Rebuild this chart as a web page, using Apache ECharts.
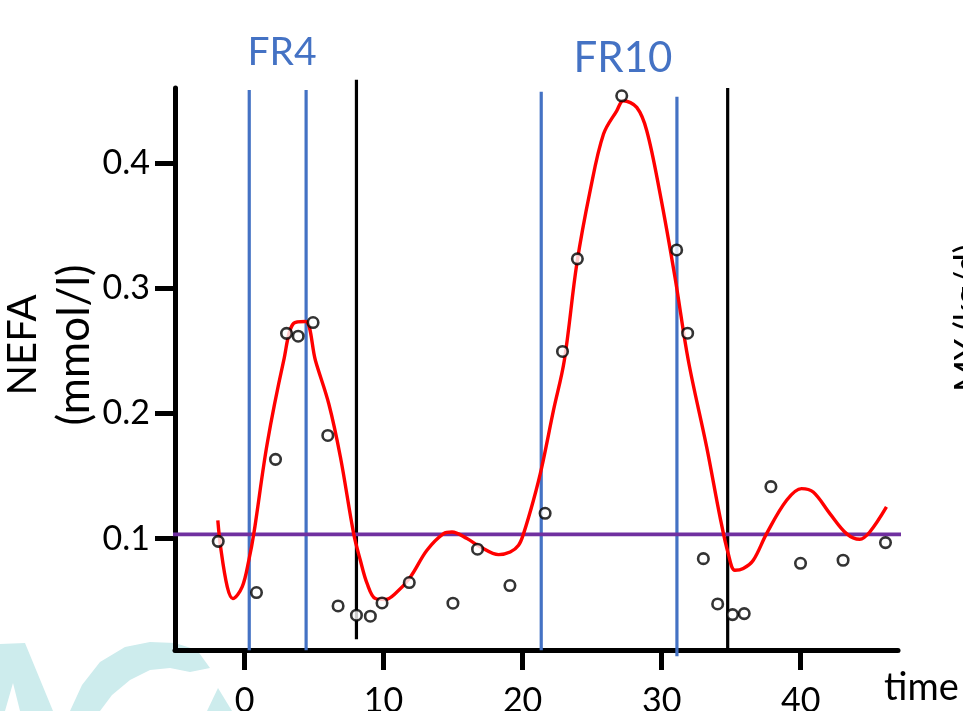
<!DOCTYPE html>
<html><head><meta charset="utf-8">
<script src="https://cdn.jsdelivr.net/npm/echarts@6/dist/echarts.min.js"></script>
<style>html,body{margin:0;padding:0;background:#fff}#c{width:963px;height:711px}</style>
</head><body><div id="c"></div>
<script>
// ---- data ----
const xTicks = [0, 10, 20, 30, 40];
const yTicks = [0.1, 0.2, 0.3, 0.4];
const obsTime = [-1.89, 0.86, 2.23, 3.02, 3.86, 4.93, 5.99, 6.73, 8.05, 9.05, 9.89, 11.85, 14.99, 16.76, 19.09, 21.62, 22.87, 23.94, 27.13, 31.08, 31.87, 33.0, 34.03, 35.1, 35.94, 37.86, 39.99, 43.05, 46.1];
const obsNEFA = [0.0978, 0.0569, 0.1633, 0.264, 0.2617, 0.2726, 0.1824, 0.0462, 0.0388, 0.038, 0.0486, 0.0649, 0.0484, 0.0915, 0.0625, 0.1202, 0.2495, 0.3235, 0.4538, 0.3306, 0.2641, 0.084, 0.0478, 0.0393, 0.0401, 0.1415, 0.0803, 0.0827, 0.0968];
const fitTime = [-1.92, -1.72, -1.24, -0.84, -0.17, 0.31, 0.67, 1.63, 2.82, 3.54, 4.38, 5.1, 6.06, 6.9, 7.85, 8.33, 8.82, 9.41, 10.13, 10.85, 11.93, 13.12, 14.32, 14.92, 16.0, 16.95, 18.27, 19.11, 19.71, 20.07, 20.78, 21.38, 22.22, 23.0, 23.9, 24.86, 25.82, 26.77, 27.25, 28.21, 28.93, 29.89, 30.96, 31.92, 33.24, 34.2, 34.79, 35.27, 35.87, 36.59, 37.55, 38.99, 40.06, 40.9, 42.1, 43.3, 44.25, 44.97, 46.17];
const fitNEFA = [0.1146, 0.0933, 0.0614, 0.0521, 0.0614, 0.0827, 0.104, 0.1758, 0.2423, 0.272, 0.2734, 0.2423, 0.2077, 0.165, 0.104, 0.0827, 0.064, 0.0521, 0.0513, 0.0561, 0.0694, 0.0907, 0.104, 0.1053, 0.1, 0.0935, 0.0872, 0.0893, 0.0947, 0.104, 0.1306, 0.1571, 0.2024, 0.2423, 0.3195, 0.378, 0.4232, 0.4418, 0.4498, 0.4445, 0.4259, 0.3754, 0.3088, 0.2423, 0.1731, 0.1172, 0.088, 0.0747, 0.0761, 0.0827, 0.104, 0.1306, 0.1399, 0.1372, 0.12, 0.104, 0.0995, 0.1053, 0.1253];
const frTime = [0.34, 4.43, 21.34, 31.1];
const frTop = [0.4585, 0.4585, 0.457, 0.453];
const frBottom = [0.0109, 0.0109, 0.0109, 0.0061];
const phaseTime = [8.05, 34.75];
const phaseTop = [0.4666, 0.460];
const phaseBottom = [0.0196, 0.0109];
const baselineNEFA = 0.1034;
const baselineSpan = [-5.69, 48.04];
const frLabels = ['FR4', 'FR10'];

// ---- build ----
const FONT = 'Lato';
const series = [];
frTime.forEach((t, i) => series.push({
  type: 'line', clip: false, symbol: 'none', silent: true, z: 2,
  lineStyle: { color: '#4472C4', width: 3.2 },
  data: [[t, frBottom[i]], [t, frTop[i]]]
}));
phaseTime.forEach((t, i) => series.push({
  type: 'line', clip: false, symbol: 'none', silent: true, z: 3,
  lineStyle: { color: '#000', width: 3.2 },
  data: [[t, phaseBottom[i]], [t, phaseTop[i]]]
}));
series.push({
  type: 'line', clip: false, symbol: 'none', silent: true, z: 4,
  lineStyle: { color: '#7030A0', width: 3.6 },
  data: baselineSpan.map(t => [t, baselineNEFA])
});
series.push({
  type: 'line', clip: false, symbol: 'none', smooth: 0.35, z: 5,
  lineStyle: { color: '#FF0000', width: 3.4 },
  data: fitTime.map((t, i) => [t, fitNEFA[i]])
});
series.push({
  type: 'scatter', clip: false, symbol: 'circle', symbolSize: 10.5, z: 6,
  itemStyle: { color: '#fff', borderColor: '#000', borderWidth: 2.6 },
  data: obsTime.map((t, i) => [t, obsNEFA[i]])
});

const chart = echarts.init(document.getElementById('c'), null, { renderer: 'canvas' });
chart.setOption({
  backgroundColor: '#fff',
  animation: false,
  textStyle: { fontFamily: FONT },
  grid: { left: 175, right: 65, top: 88, bottom: 61, containLabel: false, outerBoundsMode: 'none' },
  xAxis: {
    type: 'value', min: -5, max: 47,
    name: 'time', nameLocation: 'end', nameGap: -14,
    nameTextStyle: { fontFamily: FONT, fontSize: 38, color: '#000', align: 'left', verticalAlign: 'top', padding: [19, 0, 0, 0] },
    axisLine: { show: true, onZero: false, lineStyle: { color: '#000', width: 5 } },
    axisTick: { show: true, inside: false, length: 20, customValues: xTicks, lineStyle: { color: '#000', width: 5 } },
    axisLabel: { show: true, customValues: xTicks, margin: 34, fontSize: 34, fontFamily: FONT, color: '#000' },
    splitLine: { show: false }
  },
  yAxis: {
    type: 'value', min: 0.011, max: 0.46,
    name: '{a|NEFA}\n{b|(mmol/l)}', nameLocation: 'middle', nameGap: 74, nameMoveOverlap: false,
    nameTextStyle: { fontFamily: FONT, color: '#000', padding: [0, 0, 0, 48],
      rich: { a: { fontFamily: FONT, fontSize: 40, lineHeight: 52, color: '#000' },
              b: { fontFamily: FONT, fontSize: 44, lineHeight: 52, color: '#000' } } },
    axisLine: { show: true, onZero: false, lineStyle: { color: '#000', width: 5 } },
    axisTick: { show: true, inside: false, length: 20, customValues: yTicks, lineStyle: { color: '#000', width: 5 } },
    axisLabel: { show: true, customValues: yTicks, margin: 25, fontSize: 34, fontFamily: FONT, color: '#000',
      formatter: v => v.toFixed(1) },
    splitLine: { show: false }
  },
  graphic: [
    { type: 'polygon', z: -10, shape: { points: [[0,644],[25,643],[53,711],[20,711],[13,683],[5,711],[0,711]] }, style: { fill: '#cdeced' } },
    { type: 'polygon', z: -10, shape: { points: [[70,711],[82,685],[100,662],[125,647],[150,642],[175,643],[197,650],[210,668],[190,672],[170,668],[150,670],[130,680],[112,695],[100,711]] }, style: { fill: '#cdeced' } },
    { type: 'polygon', z: -10, shape: { points: [[218,688],[232,711],[207,711]] }, style: { fill: '#cdeced' } },
    { type: 'text', x: 282, y: 52, style: { text: frLabels[0], font: '39px ' + FONT, fill: '#4472C4', align: 'center', verticalAlign: 'middle' } },
    { type: 'text', x: 623, y: 58, style: { text: frLabels[1], font: '42px ' + FONT, fill: '#4472C4', align: 'center', verticalAlign: 'middle' } },
    { type: 'text', x: 968, y: 318, rotation: Math.PI / 2, style: { text: 'MY (kg/d)', font: '34px ' + FONT, fill: '#000', align: 'center', verticalAlign: 'middle' } }
  ],
  series
});
</script></body></html>
